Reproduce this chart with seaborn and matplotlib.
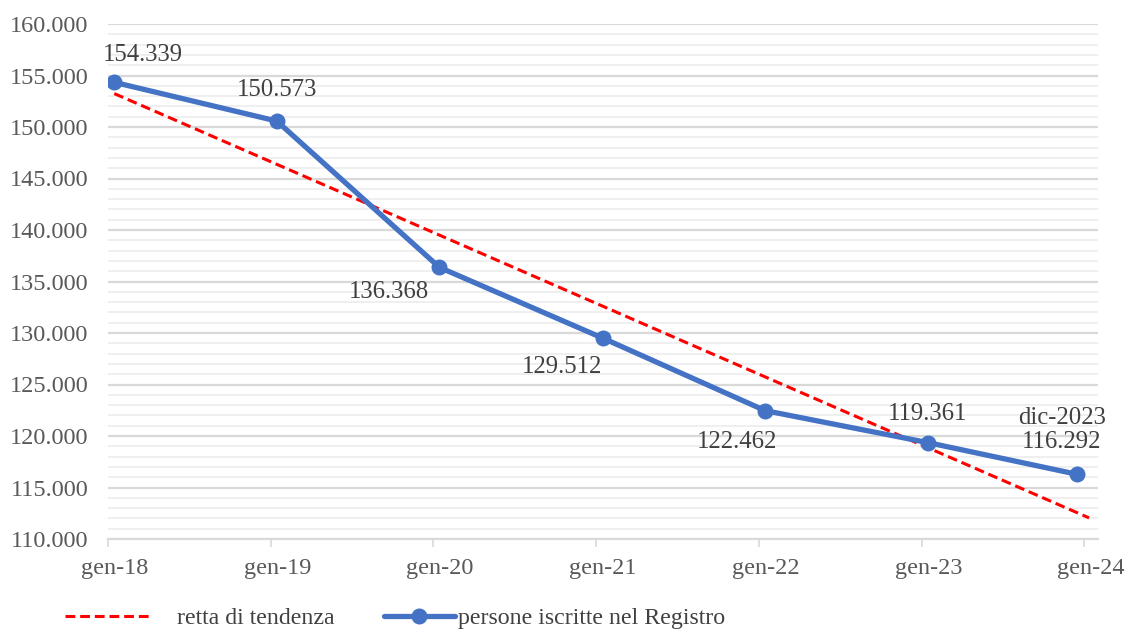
import numpy as np
import pandas as pd
import matplotlib
matplotlib.use("Agg")
import matplotlib.pyplot as plt
import matplotlib.dates as mdates
from matplotlib.lines import Line2D
import seaborn as sns

# Registry head-count by survey date
survey_dates = ["2018-01-15", "2019-01-15", "2020-01-15", "2021-01-15",
                "2022-01-15", "2023-01-15", "2023-12-15"]
persons = [154339, 150573, 136368, 129512, 122462, 119361, 116292]
point_labels = ["154.339", "150.573", "136.368", "129.512",
                "122.462", "119.361", "dic-2023\n116.292"]
month_starts = ["2018-01-01", "2019-01-01", "2020-01-01", "2021-01-01",
                "2022-01-01", "2023-01-01", "2024-01-01"]
tick_labels = ["gen-18", "gen-19", "gen-20", "gen-21", "gen-22", "gen-23", "gen-24"]
y_ticks = [110000, 115000, 120000, 125000, 130000, 135000, 140000,
           145000, 150000, 155000, 160000]
y_tick_labels = ["110.000", "115.000", "120.000", "125.000", "130.000", "135.000",
                 "140.000", "145.000", "150.000", "155.000", "160.000"]
series_name = "persone iscritte nel Registro"
trend_name = "retta di tendenza"

sns.set_theme(style="white")
plt.rcParams["font.family"] = ["Liberation Serif", "DejaVu Serif"]

x = mdates.date2num(pd.to_datetime(survey_dates))
starts = pd.to_datetime(month_starts)
tick_marks = mdates.date2num(starts)
# labels sit in the middle of each January
label_pos = tick_marks + 15.5
df = pd.DataFrame({"x": x, "y": persons})

fig = plt.figure(figsize=(11.26, 6.29), dpi=100)
ax = fig.add_axes([108 / 1126, 1 - 539 / 629, (1098 - 108) / 1126, (539 - 24) / 629])

# gridlines: light every 1.000, darker every 5.000
for v in range(110000, 160001, 1000):
    major = v % 5000 == 0
    ax.axhline(v, color="#D9D9D9" if major else "#EEEEEE",
               lw=1.6 if major else 1.3, zorder=0)

# linear trend fitted over the series
coef = np.polyfit(x, persons, 1)
tx = np.array([x[0], mdates.date2num(pd.Timestamp("2024-01-12"))])
ax.plot(tx, np.polyval(coef, tx), color="#FF0000", lw=2.2,
        dashes=(3.2, 1.6), zorder=2)

sns.lineplot(data=df, x="x", y="y", ax=ax, color="#4472C4", lw=3.8,
             marker="o", markersize=11.5, markeredgewidth=0, zorder=3)

# value labels: offsets in pixels (dx, dy)
offsets = [(29, 27), (0, 31), (-51, -25), (-41, -29), (-28, -31), (0, 29), (-15, 44)]
for xi, yi, lab, (dx, dy) in zip(x, persons, point_labels, offsets):
    ax.annotate(lab, (xi, yi), xytext=(dx, dy), textcoords="offset pixels",
                ha="center", va="center", fontsize=17.8, color="#404040",
                linespacing=1.15, zorder=4)

ax.set_xlim(tick_marks[0], mdates.date2num(pd.Timestamp("2024-02-01")))
ax.set_ylim(110000, 160000)
ax.set_xticks(label_pos)
ax.set_xticklabels(tick_labels)
ax.set_xticks(tick_marks, minor=True)
ax.set_yticks(y_ticks)
ax.set_yticklabels(y_tick_labels)
ax.set_xlabel("")
ax.set_ylabel("")
for side in ["top", "right", "left"]:
    ax.spines[side].set_visible(False)
ax.spines["bottom"].set_color("#D9D9D9")
ax.spines["bottom"].set_linewidth(1.6)
ax.tick_params(axis="x", which="major", bottom=False, length=0,
               labelsize=17.5, labelcolor="#595959", pad=14)
ax.tick_params(axis="x", which="minor", bottom=True, length=6, width=1.2,
               color="#D9D9D9")
ax.tick_params(axis="y", left=False, labelsize=17.5, labelcolor="#595959", pad=8)

# legend, laid out as two separate entries along the bottom
h_trend = Line2D([], [], color="#FF0000", lw=2.2, dashes=(3.2, 1.6))
h_series = Line2D([], [], color="#4472C4", lw=3.8, marker="o",
                  markersize=11.5, markeredgewidth=0)
leg1 = fig.legend([h_trend], [trend_name], loc="center left",
                  bbox_to_anchor=(43 / 1126, 1 - 618 / 629), frameon=False,
                  fontsize=17.2, handlelength=3.6, handletextpad=1.1,
                  labelcolor="#404040")
leg2 = fig.legend([h_series], [series_name], loc="center left",
                  bbox_to_anchor=(362 / 1126, 1 - 618 / 629), frameon=False,
                  fontsize=17.2, handlelength=3.0, handletextpad=0.12,
                  labelcolor="#404040")

fig.savefig("out.png", dpi=100)
